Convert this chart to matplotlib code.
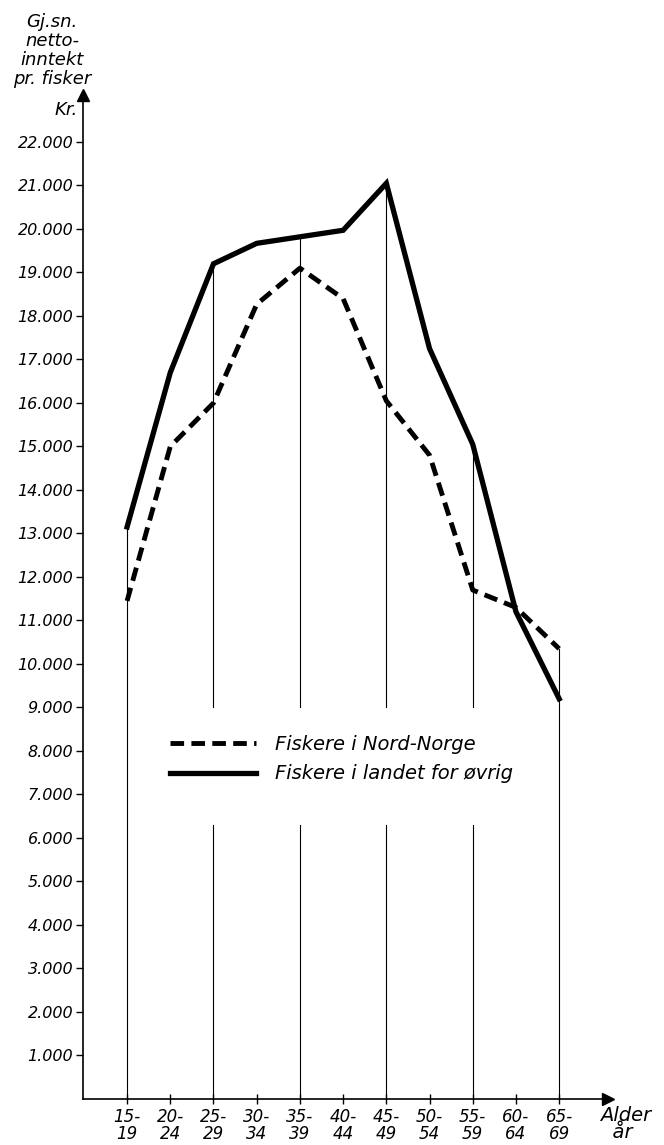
import matplotlib
matplotlib.use("Agg")
import matplotlib.pyplot as plt
import numpy as np

# Age groups and average net income per fisherman (1000 kr)
age_groups = ["15-\n19", "20-\n24", "25-\n29", "30-\n34", "35-\n39", "40-\n44",
              "45-\n49", "50-\n54", "55-\n59", "60-\n64", "65-\n69"]
nord_norge = [11.45, 15.0, 16.0, 18.27, 19.1, 18.4, 16.05, 14.8, 11.7, 11.3, 10.35]
landet_ellers = [13.15, 16.7, 19.2, 19.67, 19.82, 19.97, 21.05, 17.25, 15.05, 11.2, 9.2]
ytick_values = list(range(1, 23))
ytick_labels = [f"{v}.000" for v in ytick_values]

W, H = 664, 1145
fig = plt.figure(figsize=(W / 100, H / 100), dpi=100)
plt.rcParams["font.family"] = ["DejaVu Sans"]

# axes placed in pixel terms: y-axis at x=83, x-axis at y=1099, arrow tips at (83,95)/(608,1099)
left, right, bottom, top = 83, 608, 1099, 95
ax = fig.add_axes([left / W, 1 - bottom / H, (right - left) / W, (bottom - top) / H])

x = np.arange(len(age_groups))
ax.set_xlim(-1.02, 11.13)
ax.set_ylim(0, 23.08)

# thin drop lines at every other age group, broken around the legend
for i in range(0, len(x), 2):
    ytop = max(nord_norge[i], landet_ellers[i])
    if 0 < i < len(x) - 1:
        ax.plot([x[i], x[i]], [0, 6.3], color="black", lw=0.8)
        ax.plot([x[i], x[i]], [9.0, ytop], color="black", lw=0.8)
    else:
        ax.plot([x[i], x[i]], [0, ytop], color="black", lw=0.8)

ax.plot(x, nord_norge, color="black", lw=3.5, ls=(0, (2.8, 1.5)),
        solid_joinstyle="miter", label="Fiskere i Nord-Norge")
ax.plot(x, landet_ellers, color="black", lw=3.8, solid_joinstyle="miter",
        label="Fiskere i landet for øvrig")

for s in ["top", "right"]:
    ax.spines[s].set_visible(False)
for s in ["left", "bottom"]:
    ax.spines[s].set_linewidth(1.2)

# arrow heads on the axes
ax.plot([0], [1], marker="^", color="black", ms=9, transform=ax.transAxes, clip_on=False)
ax.plot([1], [0], marker=">", color="black", ms=9, transform=ax.transAxes, clip_on=False)

ax.set_yticks(ytick_values)
ax.set_yticklabels(ytick_labels, fontsize=11.5, style="italic")
ax.tick_params(axis="y", direction="out", length=5, width=1, pad=2)
ax.set_xticks(x)
ax.set_xticklabels(age_groups, fontsize=12, style="italic", linespacing=0.95)
ax.tick_params(axis="x", direction="inout", length=7, width=1, pad=3)

leg = ax.legend(loc="center left", bbox_to_anchor=(170 / W, 1 - 759 / H),
                bbox_transform=fig.transFigure, frameon=False,
                handlelength=4.4, handletextpad=1.0, labelspacing=0.55,
                borderpad=0, borderaxespad=0, prop={"style": "italic", "size": 14})

fig.text(52 / W, 1 - 13 / H, "Gj.sn.\nnetto-\ninntekt\npr. fisker", ha="center", va="top",
         fontsize=13, style="italic", linespacing=1.08)
fig.text(78 / W, 1 - 110 / H, "Kr.", ha="right", va="center", fontsize=13, style="italic")
fig.text(600 / W, 1 - 1106 / H, "Alder\n  år", ha="left", va="top", fontsize=14,
         style="italic", linespacing=0.9)

fig.savefig("out.png", dpi=100)
